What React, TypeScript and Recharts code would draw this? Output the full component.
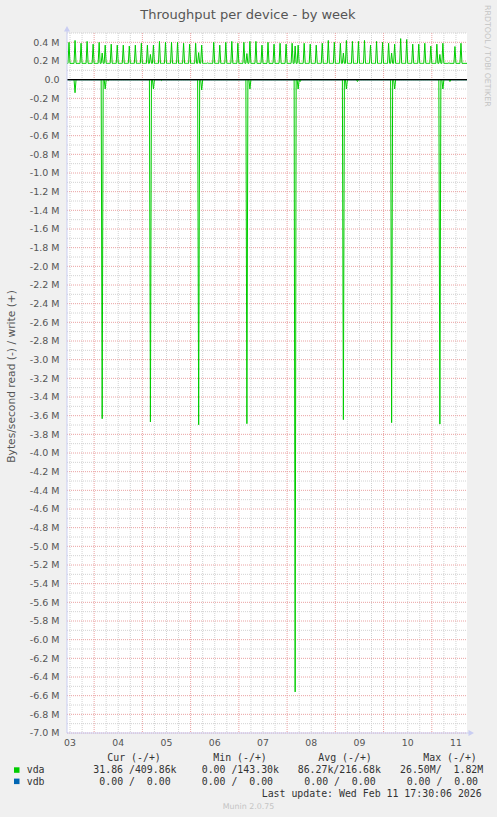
import React from 'react';
import { LineChart, Line, XAxis, YAxis, CartesianGrid, ReferenceLine, ReferenceDot } from 'recharts';

// ---- time frame (hours since Feb 03 00:00) ----
const hourStart = 10.5;
const hourEnd = 209.5;
const stepHours = 0.5;

// x ticks (labels at noon of each day) and grid
const xTickHours = [12, 36, 60, 84, 108, 132, 156, 180, 204];
const xTickLabels = ['03', '04', '05', '06', '07', '08', '09', '10', '11'];
const xDayLines = [24, 48, 72, 96, 120, 144, 168, 192];
const xSixHourLines = [12, 18, 30, 36, 42, 54, 60, 66, 78, 84, 90, 102, 108, 114, 126, 132, 138, 150, 156, 162, 174, 180, 186, 198, 204];

// y ticks (in M bytes/second)
const yTicks = [
  -7.0, -6.8, -6.6, -6.4, -6.2, -6.0, -5.8, -5.6, -5.4, -5.2, -5.0, -4.8, -4.6, -4.4, -4.2, -4.0,
  -3.8, -3.6, -3.4, -3.2, -3.0, -2.8, -2.6, -2.4, -2.2, -2.0, -1.8, -1.6, -1.4, -1.2, -1.0,
  -0.8, -0.6, -0.4, -0.2, 0.0, 0.2, 0.4,
];

// ---- vda write (+): periodic spikes every 3 h over a ~0.175M baseline ----
const writeSpikeFirstHour = 11.5;
const writeSpikeEveryHours = 3;
const vdaWriteBaseline = 0.175;
const vdaWriteSpikes = [
  0.40, 0.42, 0.39, 0.41, 0.38, 0.40, 0.37, 0.38, 0.37, 0.37,
  0.36, 0.37, 0.39, 0.37, 0.37, 0.41, 0.40, 0.40, 0.40, 0.39,
  0.38, 0.39, 0.37, 0.18, 0.40, 0.37, 0.40, 0.41, 0.39, 0.40,
  0.41, 0.41, 0.37, 0.40, 0.38, 0.39, 0.38, 0.39, 0.37, 0.39,
  0.38, 0.37, 0.39, 0.42, 0.40, 0.39, 0.42, 0.41, 0.41, 0.42,
  0.37, 0.41, 0.40, 0.39, 0.38, 0.44, 0.43, 0.38, 0.38, 0.39,
  0.36, 0.38, 0.39, 0.18, 0.355, 0.39,
];

// ---- daily events (~04:00): big read (-) burst plus a small write ----
const dailyEventHours = [28, 52, 76, 100, 124, 148, 172, 196];
const vdaReadPeaks = [3.633, 3.668, 3.697, 3.686, 6.56, 3.643, 3.675, 3.69];
const vdaWriteAtEvent = [0.285, 0.27, 0.29, 0.28, 0.36, 0.285, 0.285, 0.27];
const afterEventHours = [29.5, 53.5, 77.5, 101.5, 125.5, 149.5, 173.5, 197.5];
const vdaReadAfterEvent = [0.10, 0.10, 0.11, 0.10, 0.10, 0.10, 0.10, 0.10];
const minorReadHours = [14.5, 31, 57.5, 126.5, 155, 201];
const vdaReadMinor = [0.14, 0.01, 0.01, 0.02, 0.02, 0.02];

// ---- build the table ----
type Row = { h: number; read: number; write: number; vdbRead: number; vdbWrite: number };
const rows: Row[] = [];
for (let i = 0; i <= Math.round((hourEnd - hourStart) / stepHours); i++) {
  rows.push({ h: hourStart + i * stepHours, read: 0, write: vdaWriteBaseline, vdbRead: 0, vdbWrite: 0 });
}
const rowAt = (h: number) => rows[Math.round((h - hourStart) / stepHours)];
vdaWriteSpikes.forEach((v, k) => {
  const r = rowAt(writeSpikeFirstHour + k * writeSpikeEveryHours);
  if (r) r.write = v;
});
dailyEventHours.forEach((h, i) => {
  const r = rowAt(h);
  if (r) {
    r.read = -vdaReadPeaks[i];
    r.write = vdaWriteAtEvent[i];
  }
});
afterEventHours.forEach((h, i) => {
  const r = rowAt(h);
  if (r) r.read = -vdaReadAfterEvent[i];
});
minorReadHours.forEach((h, i) => {
  const r = rowAt(h);
  if (r) r.read = -vdaReadMinor[i];
});

const yMinor: number[] = [];
for (let i = -69; i <= 5; i += 2) yMinor.push(i / 10);

const axisColor = '#c9cdf2';
const green = '#00cc00';
const blue = '#0066b3';
const sans = '"DejaVu Sans", sans-serif';
const mono = '"DejaVu Sans Mono", monospace';

const UpArrow = (p: any) => (
  <g>
    <line x1={p.cx} y1={p.cy} x2={p.cx} y2={p.cy - 2} stroke={axisColor} />
    <path d={`M${p.cx - 3},${p.cy - 1.5} L${p.cx + 3},${p.cy - 1.5} L${p.cx},${p.cy - 7} Z`} fill={axisColor} />
  </g>
);
const RightArrow = (p: any) => (
  <g>
    <line x1={p.cx} y1={p.cy} x2={p.cx + 2} y2={p.cy} stroke={axisColor} />
    <path d={`M${p.cx + 1.5},${p.cy - 3} L${p.cx + 1.5},${p.cy + 3} L${p.cx + 7},${p.cy} Z`} fill={axisColor} />
  </g>
);

const T = (props: { x: number; y: number; children: string }) => (
  <text x={props.x} y={props.y} xmlSpace="preserve" style={{ whiteSpace: 'pre' }}>
    {props.children}
  </text>
);

export default function App() {
  return (
    <div style={{ position: 'fixed', left: 0, top: 0, width: 497, height: 817, background: '#f0f0f0', overflow: 'hidden' }}>
      <LineChart
        width={497}
        height={817}
        data={rows}
        margin={{ top: 33, right: 30, bottom: 0, left: 0 }}
      >
        <CartesianGrid
          fill="#ffffff"
          stroke="#d2d2d2"
          strokeDasharray="1 1"
          horizontalValues={yMinor}
          verticalValues={xSixHourLines}
        />
        <CartesianGrid
          stroke="#eaa2a2"
          strokeDasharray="1 1"
          horizontalValues={yTicks}
          verticalValues={xDayLines}
        />
        <XAxis
          dataKey="h"
          type="number"
          domain={[hourStart, hourEnd]}
          ticks={xTickHours}
          tickFormatter={(v: number) => xTickLabels[xTickHours.indexOf(v)] ?? ''}
          allowDataOverflow
          height={84}
          tickSize={0}
          tickMargin={6}
          tickLine={false}
          axisLine={{ stroke: axisColor }}
          tick={{ fill: '#555', fontSize: 9.3, fontFamily: sans }}
          interval={0}
        />
        <YAxis
          type="number"
          domain={[-7.0, 0.5]}
          ticks={yTicks}
          tickFormatter={(v: number) => (Math.abs(v) < 1e-9 ? '0.0' : `${v.toFixed(1)} M`)}
          allowDataOverflow
          width={67}
          tickSize={0}
          tickMargin={7.5}
          tickLine={false}
          axisLine={{ stroke: axisColor }}
          tick={{ fill: '#555', fontSize: 9.5, fontFamily: sans }}
          interval={0}
        />
        <Line dataKey="vdbRead" stroke={blue} strokeWidth={1} dot={false} isAnimationActive={false} />
        <Line dataKey="vdbWrite" stroke={blue} strokeWidth={1} dot={false} isAnimationActive={false} />
        <Line dataKey="read" stroke={green} strokeWidth={1} dot={false} isAnimationActive={false} />
        <Line dataKey="write" stroke={green} strokeWidth={1} dot={false} isAnimationActive={false} />
        <ReferenceLine y={0} stroke="#000000" strokeWidth={1.3} />
        <ReferenceDot x={hourStart} y={0.5} r={0} shape={UpArrow} ifOverflow="visible" />
        <ReferenceDot x={hourEnd} y={-7.0} r={0} shape={RightArrow} ifOverflow="visible" />
      </LineChart>
      <svg width={497} height={817} style={{ position: 'absolute', left: 0, top: 0, pointerEvents: 'none' }}>
        <text x={248} y={18.5} textAnchor="middle" fontFamily={sans} fontSize={13} fill="#555">
          Throughput per device - by week
        </text>
        <text
          transform="translate(15,376.4) rotate(-90)"
          textAnchor="middle"
          fontFamily={sans}
          fontSize={10.7}
          fill="#555"
        >
          Bytes/second read (-) / write (+)
        </text>
        <text transform="translate(485,5) rotate(90)" fontFamily={sans} fontSize={7.9} fill="#c4c4c4">
          RRDTOOL / TOBI OETIKER
        </text>
        <g fontFamily={mono} fontSize={9.9} fill="#333">
          <T x={107.3} y={761}>Cur (-/+)</T>
          <T x={213.3} y={761}>Min (-/+)</T>
          <T x={318.3} y={761}>Avg (-/+)</T>
          <T x={423.3} y={761}>Max (-/+)</T>

          <rect x={14} y={767.3} width={5.5} height={5.5} fill={green} />
          <T x={26.7} y={773}>vda</T>
          <T x={93.3} y={773}>31.86 /409.86k</T>
          <T x={201.7} y={773}>0.00 /143.30k</T>
          <T x={297.7} y={773}>86.27k/216.68k</T>
          <T x={400} y={773}>26.50M/  1.82M</T>

          <rect x={14} y={778.6} width={5.5} height={5.5} fill={blue} />
          <T x={26.7} y={784.5}>vdb</T>
          <T x={99.3} y={784.5}>0.00 /  0.00</T>
          <T x={201.7} y={784.5}>0.00 /  0.00</T>
          <T x={304.3} y={784.5}>0.00 /  0.00</T>
          <T x={406.7} y={784.5}>0.00 /  0.00</T>

          <T x={261.7} y={797}>Last update: Wed Feb 11 17:30:06 2026</T>
        </g>
        <text x={248.5} y={808.7} textAnchor="middle" fontFamily={sans} fontSize={7.9} fill="#c4c4c4">
          Munin 2.0.75
        </text>
      </svg>
    </div>
  );
}
